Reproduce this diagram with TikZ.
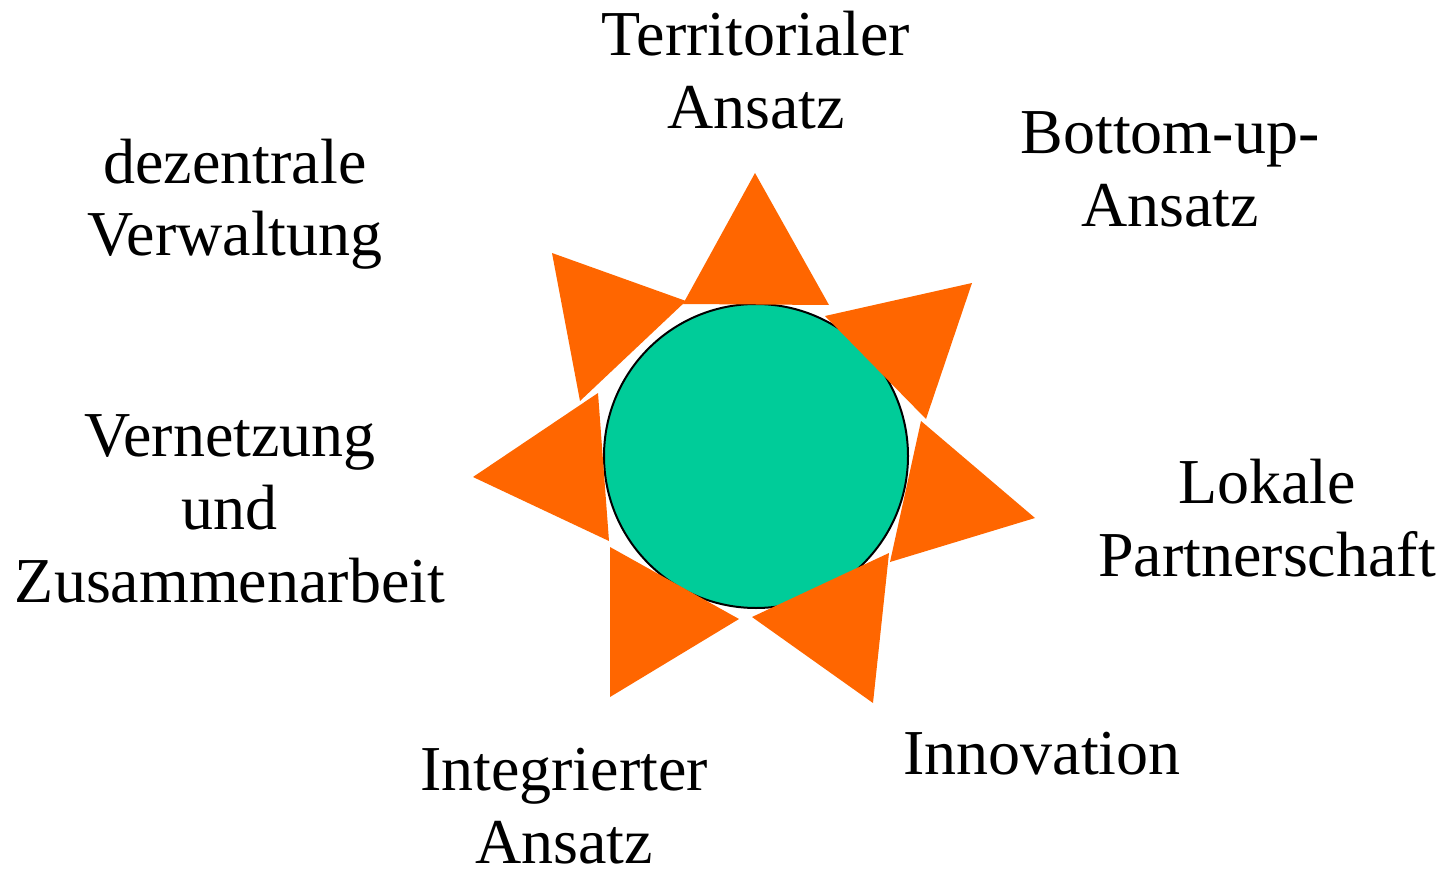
\documentclass[tikz,border=0pt]{standalone}
\usepackage{fontspec}
\setmainfont{Liberation Serif}
\definecolor{sunorange}{HTML}{FF6600}
\definecolor{sungreen}{HTML}{00CC99}
\tikzset{
  ray/.style={fill=sunorange},
  lbl/.style={anchor=base, inner sep=0pt, font=\fontsize{64}{73}\selectfont},
}
\newcommand{\mylines}[1]{\renewcommand{\arraystretch}{1}\setlength{\tabcolsep}{0pt}\begin{tabular}[t]{c}#1\end{tabular}}
\begin{document}
\begin{tikzpicture}[x=1pt,y=-1pt]
\useasboundingbox (0,0) rectangle (1441,872);
% sun disc
\draw[fill=sungreen, line width=2pt] (756,456) circle (152);
% rays
\fill[ray] (755,173) -- (683,304) -- (829,305) -- cycle;
\fill[ray] (972,283) -- (825,316) -- (926,419) -- cycle;
\fill[ray] (1035,518) -- (921,421) -- (890,562) -- cycle;
\fill[ray] (873,703) -- (889,553) -- (752,617) -- cycle;
\fill[ray] (610,697) -- (739,619) -- (610,547) -- cycle;
\fill[ray] (473,477) -- (598,393) -- (609,541) -- cycle;
\fill[ray] (552,253) -- (686,301) -- (580,401) -- cycle;
% labels
\node[lbl] (terr) at (756,56) {\mylines{Territorialer\\Ansatz}};
\node[lbl] (bott) at (1170,154) {\mylines{Bottom-up-\\Ansatz}};
\node[lbl] (dez) at (235,183) {\mylines{dezentrale\\Verwaltung}};
\node[lbl] (vern) at (230,456) {\mylines{Vernetzung\\und\\Zusammenarbeit}};
\node[lbl] (lok) at (1267,503) {\mylines{Lokale\\Partnerschaft}};
\node[lbl] (inno) at (1042,774) {Innovation};
\node[lbl] (integ) at (564,790) {\mylines{Integrierter\\Ansatz}};
\end{tikzpicture}
\end{document}
